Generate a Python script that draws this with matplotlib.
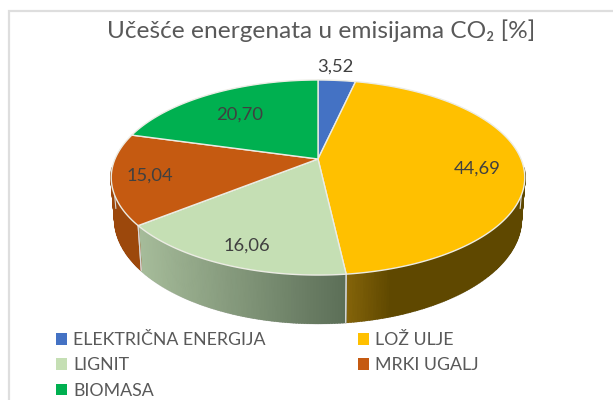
import numpy as np
import matplotlib
matplotlib.use("Agg")
import matplotlib.pyplot as plt
from matplotlib.patches import Polygon, Patch, Rectangle
from matplotlib.colors import to_rgb

plt.rcParams['font.family'] = ['Lato', 'DejaVu Sans']

TITLE = "Učešće energenata u emisijama CO₂ [%]"
categories = ["ELEKTRIČNA ENERGIJA", "LOŽ ULJE", "LIGNIT", "MRKI UGALJ", "BIOMASA"]
values = [3.52, 44.69, 16.06, 15.04, 20.70]
value_labels = ["3,52", "44,69", "16,06", "15,04", "20,70"]
colors = ["#4472C4", "#FFC000", "#C5DFB4", "#C55A11", "#00B050"]
side_left = ["#2f4f88", "#84640a", "#A6BC9A", "#9C480C", "#007a38"]
side_right = ["#2f4f88", "#5f4800", "#5C6E57", "#9C480C", "#007a38"]

label_xy = [(335, 67), (477, 169), (247, 246), (150, 176), (240, 115)]

TEXT = "#595959"
LABEL = "#404040"

CX, CY_TOP, CY_BOT = 318.0, 159.0, 199.0
A_TOP, B_TOP, A_BOT, B_BOT, K = 203.0, 94.0, 199.5, 100.6, 0.19


def project(theta, top=True, r=1.0):
    x, y = r * np.sin(theta), r * np.cos(theta)
    den = 1 + K * y
    a, b, cy = (A_TOP, B_TOP, CY_TOP) if top else (A_BOT, B_BOT, CY_BOT)
    return CX + a * x / den, cy - b * y / den


fig = plt.figure(figsize=(6.13, 4.00), dpi=100)
ax = fig.add_axes([0, 0, 1, 1])
ax.set_xlim(0, 613)
ax.set_ylim(400, 0)
ax.axis("off")

# chart frame
ax.add_patch(Rectangle((8.5, 10.5), 640, 420, fc="white", ec="#DEDEDE", lw=1.6, zorder=0))

edges = np.cumsum([0] + values) / sum(values) * 2 * np.pi

# visible arc of the side wall: from the right tangent round the front to the left tangent
t0 = np.pi / 2 + np.arcsin(K) - 0.10
t1 = 3 * np.pi / 2 - np.arcsin(K) + 0.10
for i in range(len(values)):
    a0, a1 = max(edges[i], t0), min(edges[i + 1], t1)
    if a1 <= a0:
        continue
    n = max(2, int((a1 - a0) * 90))
    ts = np.linspace(a0, a1, n + 1)
    c0, c1 = np.array(to_rgb(side_left[i])), np.array(to_rgb(side_right[i]))
    xs_top, ys_top = project(ts)
    xs_bot, ys_bot = project(ts, top=False)
    x_lo, x_hi = xs_top.min(), xs_top.max()
    # outer rim of the wall
    rim = list(zip(xs_top, ys_top)) + list(zip(xs_bot[::-1], ys_bot[::-1]))
    ax.add_patch(Polygon(rim, closed=True, fc=tuple(0.5 * (c0 + c1)), ec="#D0D0D0", lw=1.6, zorder=1))
    for j in range(n):
        mid_x = 0.5 * (xs_top[j] + xs_top[j + 1])
        f = (mid_x - x_lo) / max(x_hi - x_lo, 1)
        # the yellow wall darkens quickly from its front edge
        g = min(1, f * 4) if i == 1 else f
        col = c0 * (1 - g) + c1 * g
        q = [(xs_top[j], ys_top[j]), (xs_top[j + 1], ys_top[j + 1]),
             (xs_bot[j + 1], ys_bot[j + 1]), (xs_bot[j], ys_bot[j])]
        ax.add_patch(Polygon(q, closed=True, fc=col, ec=col, lw=1.2, zorder=2))
    # light seam at the wedge's wall ends
    ax.plot([xs_top[0], xs_bot[0]], [ys_top[0], ys_bot[0]], color="#D8D8D8", lw=0.8, zorder=3)
    ax.plot([xs_top[-1], xs_bot[-1]], [ys_top[-1], ys_bot[-1]], color="#D8D8D8", lw=0.8, zorder=3)

# top face
for i in range(len(values)):
    ts = np.linspace(edges[i], edges[i + 1], 200)
    xs, ys = project(ts)
    pts = [(CX, CY_TOP)] + list(zip(xs, ys))
    ax.add_patch(Polygon(pts, closed=True, fc=colors[i], ec="#ECECE4", lw=1.0, zorder=4, joinstyle="round"))

for (x, y), s in zip(label_xy, value_labels):
    ax.text(x, y, s, ha="center", va="center", fontsize=13.2, color=LABEL, zorder=5)

ax.text(321, 31, TITLE, ha="center", va="center", fontsize=17.6, color=TEXT, zorder=5)

handles = [Patch(fc=c, ec="none") for c in colors]
order = [0, 2, 4, 1, 3]
ax.legend([handles[i] for i in order], [categories[i] for i in order], ncol=2,
          loc="upper left", bbox_to_anchor=(56 / 613, 1 - 332 / 400), frameon=False,
          fontsize=12.8, labelcolor=TEXT, handlelength=0.62, handleheight=0.62,
          handletextpad=0.34, columnspacing=5.2, labelspacing=0.53, borderpad=0, borderaxespad=0)

fig.savefig("out.png", dpi=100)
